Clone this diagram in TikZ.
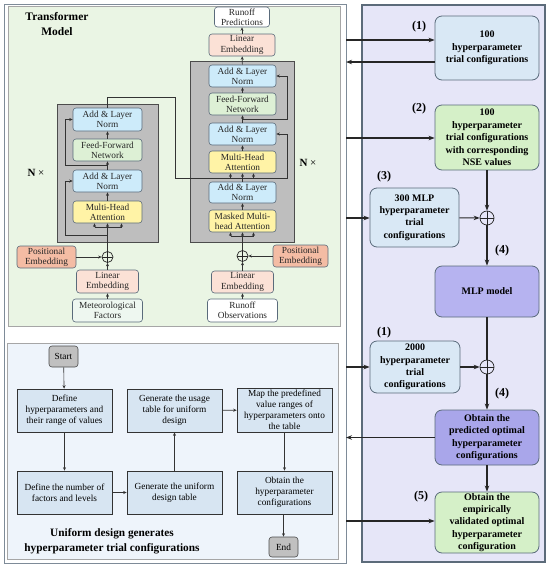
\documentclass[tikz,border=0pt]{standalone}
\usepackage{fontspec}
\setmainfont{Liberation Serif}
\usetikzlibrary{arrows.meta}
\definecolor{frameC}{HTML}{5C6B7A}
\definecolor{frameL}{HTML}{7E8B98}
\definecolor{greenP}{HTML}{EAF5E4}
\definecolor{blueP}{HTML}{EEF4FB}
\definecolor{lavP}{HTML}{E6E6F8}
\definecolor{bordC}{HTML}{5A6B7B}
\definecolor{anC}{HTML}{CDEBFA}
\definecolor{ffC}{HTML}{DDF0D5}
\definecolor{mhC}{HTML}{FFF3A6}
\definecolor{leC}{HTML}{FBE1D6}
\definecolor{peC}{HTML}{F4BCA4}
\definecolor{mfC}{HTML}{EEF7F0}
\definecolor{grayB}{HTML}{BEBEBE}
\definecolor{fcC}{HTML}{D7E5F2}
\definecolor{seC}{HTML}{C0C0C0}
\definecolor{rBlue}{HTML}{D9E8F5}
\definecolor{rGreen}{HTML}{D5F0C8}
\definecolor{rMlp}{HTML}{B6B3F0}
\definecolor{rPred}{HTML}{A9A6EA}
\begin{document}
\begin{tikzpicture}[x=1pt,y=-1pt,
  tb/.style={draw=bordC, line width=0.6pt, rounded corners=3pt, align=center, inner sep=0pt,
    font=\fontsize{9.3}{10.2}\selectfont, text=black!85},
  graybox/.style={draw=black!70, line width=0.8pt, fill=grayB},
  ar/.style={-{Stealth[length=3.5pt,width=3pt]}, line width=0.6pt, draw=black!80},
  ln/.style={line width=0.6pt, draw=black!80},
  big/.style={-{Stealth[length=6pt,width=4.5pt]}, line width=1.1pt, draw=black!85},
  opl/.style={circle, draw=black!85, line width=0.7pt, inner sep=0pt, minimum size=#1,
    path picture={\draw[line width=0.7pt,black!85] (path picture bounding box.north) -- (path picture bounding box.south)
      (path picture bounding box.west) -- (path picture bounding box.east);}},
  fc/.style={draw=black!80, line width=0.6pt, fill=fcC, align=center, inner sep=0pt,
    font=\fontsize{9.3}{11}\selectfont, minimum width=95, minimum height=43},
  se/.style={draw=black!70, line width=0.6pt, fill=seC, rounded corners=3pt, inner sep=0pt,
    font=\fontsize{9.3}{11}\selectfont, minimum width=29, minimum height=21},
  rb/.style={draw=bordC, line width=0.8pt, rounded corners=7pt, align=center, inner sep=0pt,
    font=\bfseries\fontsize{10}{12.4}\selectfont},
  lab/.style={font=\bfseries\fontsize{12}{14}\selectfont},
  ttl/.style={font=\bfseries\fontsize{11.5}{15}\selectfont, align=center}
]
\useasboundingbox (0,0) rectangle (550,566);

% ---------- panels ----------
\node[draw=frameL, line width=1pt, fill=white, minimum width=342, minimum height=559, inner sep=0] (LF) at (175,283.5) {};
\fill[greenP, draw=black!35, line width=0.5pt] (8,6) rectangle (340,326);
\fill[blueP, draw=black!35, line width=0.5pt] (7,343) rectangle (338,559);
\fill[lavP, draw=frameC, line width=1.1pt] (362,5) rectangle (545,562);

% ---------- transformer ----------
\node[ttl] (tt) at (57,24.5) {Transformer\\Model};

% encoder
\fill[graybox] (57,104) rectangle (158,242);
\node[tb, fill=anC, minimum width=69, minimum height=23] (eAN2) at (107.5,119.5) {Add \& Layer\\Norm};
\node[tb, fill=ffC, minimum width=69, minimum height=22] (eFF) at (107.5,150) {Feed-Forward\\Network};
\node[tb, fill=anC, minimum width=69, minimum height=22] (eAN1) at (107.5,181) {Add \& Layer\\Norm};
\node[tb, fill=mhC, minimum width=69, minimum height=22] (eMHA) at (107.5,212) {Multi-Head\\Attention};
\node[opl=11pt] (eo) at (107.5,257) {};
\node[tb, fill=peC, minimum width=59, minimum height=22] (ePE) at (46.5,257) {Positional\\Embedding};
\node[tb, fill=leC, minimum width=62, minimum height=23] (eLE) at (107.5,281.5) {Linear\\Embedding};
\node[tb, fill=mfC, minimum width=70, minimum height=23] (eMF) at (107.5,310.5) {Meteorological\\Factors};
\node[font=\fontsize{11}{13}\selectfont] (eN) at (36,173) {\textbf{N} ×};

\draw[ar] (eMF) -- (eLE);
\draw[ar] (eLE) -- (eo);
\draw[ar] (ePE.east) -- (eo.west);
\draw[ar] (eo) -- (eMHA);
\draw[ln] ([xshift=-13pt,yshift=-4pt]eMHA.south) -- ([xshift=14pt,yshift=-4pt]eMHA.south);
\draw[ar] ([xshift=-13pt,yshift=-4pt]eMHA.south) -- ([xshift=-13pt]eMHA.south);
\draw[ar] ([xshift=14pt,yshift=-4pt]eMHA.south) -- ([xshift=14pt]eMHA.south);
\coordinate (eR1) at (107.5,235);
\draw[ar] (eR1) -- (65,235) |- (eAN1.west);
\draw[ar] (eMHA) -- (eAN1);
\draw[ar] (eAN1) -- (eFF);
\coordinate (eR2) at (107.5,165);
\draw[ar] (eR2) -- (65,165) |- (eAN2.west);
\draw[ar] (eFF) -- (eAN2);

% decoder
\fill[graybox] (190,61) rectangle (294,242);
\node[tb, fill=white, minimum width=55, minimum height=20] (dRP) at (242,17) {Runoff\\Predictions};
\node[tb, fill=leC, minimum width=66, minimum height=22] (dLE) at (242,45) {Linear\\Embedding};
\node[tb, fill=anC, minimum width=67, minimum height=22] (dAN3) at (242.5,76) {Add \& Layer\\Norm};
\node[tb, fill=ffC, minimum width=67, minimum height=22] (dFF) at (242.5,104) {Feed-Forward\\Network};
\node[tb, fill=anC, minimum width=67, minimum height=22] (dAN2) at (242.5,134) {Add \& Layer\\Norm};
\node[tb, fill=mhC, minimum width=67, minimum height=22] (dMHA) at (242.5,162) {Multi-Head\\Attention};
\node[tb, fill=anC, minimum width=67, minimum height=21] (dAN1) at (242.5,192.5) {Add \& Layer\\Norm};
\node[tb, fill=mhC, minimum width=67, minimum height=22] (dMM) at (242.5,221) {Masked Multi-\\head Attention};
\node[opl=11pt] (do) at (242.5,256) {};
\node[tb, fill=peC, minimum width=55, minimum height=22] (dPE) at (300.5,256) {Positional\\Embedding};
\node[tb, fill=leC, minimum width=62, minimum height=22] (dLE2) at (242.5,282) {Linear\\Embedding};
\node[tb, fill=white, minimum width=70, minimum height=23] (dRO) at (242.5,310.5) {Runoff\\Observations};
\node[font=\fontsize{11}{13}\selectfont] (dN) at (308,163) {\textbf{N} ×};

\draw[ar] (dRO) -- (dLE2);
\draw[ar] (dLE2) -- (do);
\draw[ar] (dPE.west) -- (do.east);
\draw[ar] (do) -- (dMM);
\draw[ln] ([xshift=-12pt,yshift=-4pt]dMM.south) -- ([xshift=11pt,yshift=-4pt]dMM.south);
\draw[ar] ([xshift=-12pt,yshift=-4pt]dMM.south) -- ([xshift=-12pt]dMM.south);
\draw[ar] ([xshift=11pt,yshift=-4pt]dMM.south) -- ([xshift=11pt]dMM.south);
\draw[ar] (dMM) -- (dAN1);
\draw[ar] (dAN1) -- (dMHA);
\draw[ar] ([xshift=-12pt,yshift=-5pt]dMHA.south) -- ([xshift=-12pt]dMHA.south);
\draw[ar] ([xshift=11pt,yshift=-5pt]dMHA.south) -- ([xshift=11pt]dMHA.south);
\draw[ar] (eAN2.north) -- (107.5,97) -- (175,97) -- (175,178) -- (287,178) |- (dAN2.east);
\draw[ar] (dMHA) -- (dAN2);
\draw[ar] (dAN2) -- (dFF);
\coordinate (dR2) at (242.5,119);
\draw[ar] (dR2) -- (287,119) |- (dAN3.east);
\draw[ar] (dFF) -- (dAN3);
\draw[ar] (dAN3) -- (dLE);
\draw[ar] (dLE) -- (dRP);

% ---------- uniform design flowchart ----------
\node[se] (st) at (63.5,356.5) {Start};
\node[fc] (fA) at (64.5,410.5) {Define\\hyperparameters and\\their range of values};
\node[fc] (fB) at (64.5,492.5) {Define the number of\\factors and levels};
\node[fc] (fC) at (174.5,492.5) {Generate the uniform\\design table};
\node[fc] (fD) at (174.5,410.5) {Generate the usage\\table for uniform\\design};
\node[fc, minimum height=44] (fE) at (284.5,410) {Map the predefined\\value ranges of\\hyperparameters onto\\the table};
\node[fc] (fF) at (284.5,492.5) {Obtain the\\hyperparameter\\configurations};
\node[se, minimum height=20] (en) at (283.5,547) {End};
\node[ttl, font=\bfseries\fontsize{11.3}{15}\selectfont] (ut) at (112,541.5) {Uniform design generates\\hyperparameter trial configurations};

\draw[ar] (st) -- (fA);
\draw[ar] (fA) -- (fB);
\draw[ar] (fB) -- (fC);
\draw[ar] (fC) -- (fD);
\draw[ar] (fD) -- (fE);
\draw[ar] (fE) -- (fF);
\draw[ar] (fF.south -| en.north) -- (en.north);

% ---------- right panel ----------
\node[rb, fill=rBlue, minimum width=104, minimum height=64] (r1) at (487,48) {100\\hyperparameter\\trial configurations};
\node[rb, fill=rGreen, minimum width=104, minimum height=65] (r2) at (487,137.5) {100\\hyperparameter\\trial configurations\\with corresponding\\NSE values};
\node[rb, fill=rBlue, minimum width=89, minimum height=59] (r3) at (414.5,217.5) {300 MLP\\hyperparameter\\trial\\configurations};
\node[opl=14pt] (o1) at (487,218) {};
\node[rb, fill=rMlp, minimum width=104, minimum height=51] (rM) at (487,291.5) {MLP model};
\node[rb, fill=rBlue, minimum width=90, minimum height=52] (r4) at (415,367) {2000\\hyperparameter\\trial\\configurations};
\node[opl=14pt] (o2) at (487,367) {};
\node[rb, fill=rPred, minimum width=104, minimum height=55] (rP) at (487,437.5) {Obtain the\\predicted optimal\\hyperparameter\\configurations};
\node[rb, fill=rGreen, minimum width=104, minimum height=61] (r5) at (487,522.5) {Obtain the\\empirically\\validated optimal\\hyperparameter\\configuration};

\node[lab] (l1) at (419,27) {(1)};
\node[lab] (l2) at (419,109) {(2)};
\node[lab] (l3) at (384,177) {(3)};
\node[lab] (l4) at (502,251) {(4)};
\node[lab] (l5) at (384,333) {(1)};
\node[lab] (l6) at (502,394) {(4)};
\node[lab] (l7) at (421,497) {(5)};

\coordinate (a1) at (346,40);
\coordinate (a2) at (346,62);
\coordinate (a3) at (346,138);
\coordinate (a4) at (346,218);
\coordinate (a5) at (346,367);
\coordinate (a6) at (346,437.5);
\coordinate (a7) at (346,521);
\draw[big] (a1) -- (a1 -| r1.west);
\draw[big] (a2 -| r1.west) -- (a2);
\draw[big] (a3) -- (a3 -| r2.west);
\draw[big] (a4) -- (a4 -| r3.west);
\draw[big] (a5) -- (a5 -| r4.west);
\draw[big] (a6 -| rP.west) -- (a6);
\draw[big] (a7) -- (a7 -| r5.west);

\draw[big] (r2) -- (o1);
\draw[big] (r3) -- (o1);
\draw[big] (o1) -- (rM);
\draw[big, -] (rM) -- (o2);
\draw[big] (r4) -- (o2);
\draw[big] (o2) -- (rP);
\draw[big] (rP) -- (r5);
\end{tikzpicture}
\end{document}
